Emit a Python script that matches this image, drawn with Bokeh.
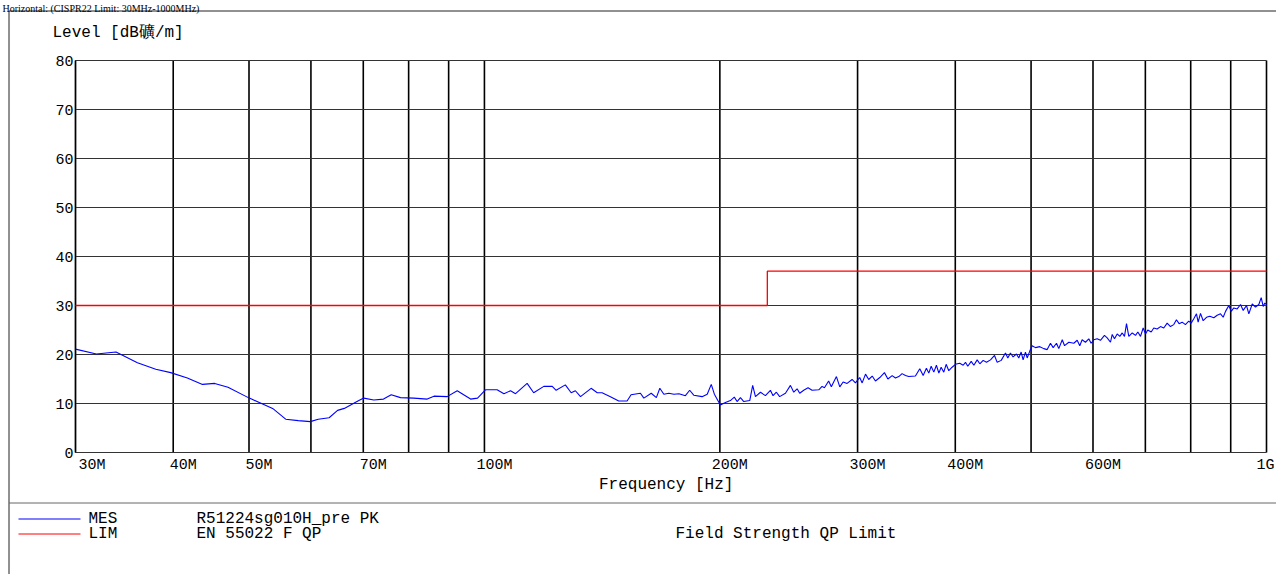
import math
from bokeh.plotting import figure
from bokeh.models import Range1d, LinearScale
from bokeh.embed import file_html
from bokeh.resources import INLINE
from bokeh.core.properties import value

# ---------------- data ----------------
mes_freq_mhz = [
    30.0, 31.9, 33.8, 36.0, 38.0, 39.7, 41.7, 43.6, 45.2, 47.0, 49.9, 53.6, 55.7, 57.8, 59.9,
    61.3, 63.3, 64.9, 66.2, 68.9, 70.1, 72.2, 74.3, 76.0,
    78.1, 81.2, 84.5, 86.2, 89.6, 92.3, 96.0, 98.0, 100.3, 103.8, 105.9, 108.0, 109.6, 113.4,
    115.6, 119.1, 122.1, 123.5, 126.9, 129.1, 130.7, 132.7, 136.9, 139.4, 141.4, 144.9, 148.5,
    152.2, 154.0, 158.3, 159.9, 163.4, 165.9, 167.6, 169.6, 172.1, 174.7, 177.3, 180.7, 183.0,
    185.2, 189.8, 192.7, 195.0, 196.8,
    200.3, 203.3, 206.3, 208.7, 210.4, 212.5, 214.6, 218.4, 220.3, 222.1, 225.4, 228.7, 232.1,
    233.9, 236.2, 238.5, 242.6, 246.2, 248.6, 251.1, 253.0, 256.0, 259.3, 262.4, 267.6, 270.2,
    272.1, 275.5, 277.7, 281.9, 284.7, 287.5, 290.9, 295.2, 298.1, 301.9, 304.1, 307.1, 310.0,
    313.2, 316.2, 320.3, 324.7,
    328.0, 332.2, 335.4, 338.7, 342.0, 345.4, 348.8, 355.7, 360.3, 363.9, 367.4, 370.0, 372.6,
    375.5, 378.4, 381.1, 383.7, 386.7, 389.4, 392.4, 396.3, 400.2, 405.3, 409.4, 412.2, 415.0,
    419.2, 422.5, 426.6, 430.0, 434.2, 438.5, 443.7, 449.0, 452.5, 457.9, 463.7, 466.9, 470.5,
    474.2, 478.9, 482.2, 485.6, 488.4, 491.8, 494.3, 498.1, 501.6, 506.5, 513.0, 519.0, 524.3,
    529.4, 533.6, 538.9, 542.5, 548.1, 551.8, 558.8,
    567.0, 572.7, 577.1, 581.1, 586.8, 592.6, 596.7, 601.4, 607.4, 613.3, 620.6, 625.6, 631.7,
    634.9, 639.2, 644.3, 649.3, 653.9, 658.3, 662.2, 666.7, 673.5, 680.0, 684.7, 690.1, 695.5,
    700.3, 705.0, 712.1, 717.6, 724.7, 731.9, 739.0, 746.4, 753.7, 761.1, 767.1, 773.1, 780.1,
    787.6, 795.4, 801.0, 807.3, 813.7, 817.7, 823.4, 829.9, 838.1, 846.2, 856.4, 864.8, 873.4,
    880.3, 886.4, 895.0, 901.3, 908.3, 917.3, 926.4, 933.7, 942.8, 949.3, 958.8, 968.1, 977.7,
    984.5, 990.3, 995.0, 1000.0,
]
mes_level_db = [
    21.1, 20.1, 20.5, 18.3, 17.0, 16.3, 15.2, 13.9, 14.1, 13.3, 11.2, 9.0, 6.8, 6.5, 6.3,
    6.8, 7.1, 8.6, 9.0, 10.5, 11.1, 10.7, 10.9, 11.8,
    11.2, 11.1, 10.9, 11.5, 11.4, 12.6, 10.9, 11.1, 12.8, 12.8, 12.0, 12.6, 12.0, 14.1,
    12.2, 13.5, 13.5, 12.7, 13.8, 12.2, 12.6, 11.4, 13.1, 12.2, 12.2, 11.4, 10.5,
    10.5, 11.8, 12.1, 11.1, 12.1, 11.2, 13.1, 11.9, 12.1, 11.9, 12.0, 11.6, 12.7,
    11.7, 11.4, 11.9, 13.9, 11.9,
    9.7, 10.2, 10.6, 11.3, 10.4, 11.2, 10.4, 10.6, 13.7, 11.4, 12.3, 11.6, 12.7,
    11.6, 12.3, 11.4, 12.1, 13.7, 12.3, 13.0, 12.1, 12.7, 13.2, 12.7, 12.8, 13.5,
    13.2, 14.6, 13.4, 15.5, 13.4, 14.4, 14.1, 14.9, 14.2, 15.3, 14.2, 16.0, 14.9,
    15.6, 14.6, 15.3, 16.3,
    15.0, 15.7, 15.2, 15.5, 16.1, 15.7, 15.5, 15.6, 17.1, 15.7, 17.2, 16.2, 17.6,
    16.4, 17.8, 16.2, 17.4, 16.4, 18.0, 16.7, 17.4, 18.0, 18.2, 17.8, 18.4, 17.6,
    18.6, 17.8, 18.9, 18.1, 18.8, 18.4, 18.9, 19.8, 18.4, 18.8, 20.3, 19.3, 20.3,
    19.5, 20.1, 19.3, 20.5, 18.9, 20.5, 19.3, 20.7, 21.8, 21.4, 21.6, 21.2, 21.0,
    22.3, 21.4, 22.3, 21.2, 23.0, 21.8, 22.5,
    22.3, 22.9, 21.8, 23.0, 22.5, 23.2, 22.3, 23.0, 23.2, 22.9, 23.9, 23.4, 22.5,
    24.1, 23.2, 24.2, 23.7, 24.4, 23.7, 26.3, 23.7, 24.4, 23.9, 24.6, 23.7, 25.4,
    24.2, 25.0, 24.6, 25.4, 25.2, 25.7, 25.4, 26.4, 25.7, 26.1, 27.1, 26.3, 26.6,
    26.1, 26.8, 26.4, 27.3, 28.3, 26.6, 28.4, 26.9, 27.6, 27.8, 27.5, 28.0, 28.3,
    27.6, 28.8, 30.0, 28.8, 29.5, 29.3, 30.2, 29.0, 30.0, 28.3, 30.3, 29.7, 30.2,
    31.6, 29.8, 30.5, 30.2,
]
lim_freq_mhz = [30, 230, 230, 1000]
lim_level_db = [30, 30, 37, 37]

x_ticks = [30, 40, 50, 60, 70, 80, 90, 100, 200, 300, 400, 500, 600, 700, 800, 900, 1000]
x_tick_labels = ["30M", "40M", "50M", "", "70M", "", "", "100M", "200M", "300M", "400M",
                 "", "600M", "", "", "", "1G"]
y_ticks = [0, 10, 20, 30, 40, 50, 60, 70, 80]
y_tick_labels = ["0", "10", "20", "30", "40", "50", "60", "70", "80"]

title_text = "Horizontal: (CISPR22 Limit: 30MHz-1000MHz)"
y_title = "Level  [dB礦/m]"
x_title = "Frequency  [Hz]"
legend_key = ["MES", "LIM"]
legend_name = ["R51224sg010H_pre  PK", "EN 55022 F QP"]
legend_note = ["", "Field Strength QP Limit"]
legend_color = ["#0000ff", "#ff0000"]

# ---------------- layout (page pixels) ----------------
W, H = 1276, 574
PLOT_L, PLOT_R, PLOT_T, PLOT_B = 75, 1266, 60, 452
MONO = value("Liberation Mono")

f0, f1 = x_ticks[0], x_ticks[-1]
v0, v1 = y_ticks[0], y_ticks[-1]
dec_px = (PLOT_R - PLOT_L) / math.log10(f1 / f0)
x_start = f0 / 10 ** (PLOT_L / dec_px)
x_end = f1 * 10 ** ((W - PLOT_R) / dec_px)
unit_px = (PLOT_B - PLOT_T) / (v1 - v0)
y_start = v0 - (H - PLOT_B) / unit_px
y_end = v1 + PLOT_T / unit_px

p = figure(width=W, height=H, x_axis_type="log", x_axis_location=None, y_axis_location=None,
           x_range=Range1d(x_start, x_end), y_range=Range1d(y_start, y_end),
           output_backend="svg", toolbar_location=None, min_border=0)
p.outline_line_color = None
p.background_fill_color = "white"
p.border_fill_color = "white"
p.grid.grid_line_color = None
p.extra_x_ranges = {"px": Range1d(0, W)}
p.extra_x_scales = {"px": LinearScale()}
p.extra_y_ranges = {"py": Range1d(H, 0)}
p.extra_y_scales = {"py": LinearScale()}

# grid lines (through the data scales)
p.segment(x0=x_ticks, y0=[v0] * len(x_ticks), x1=x_ticks, y1=[v1] * len(x_ticks),
          line_color="black", line_width=1.6)
p.segment(x0=[f0] * len(y_ticks), y0=y_ticks, x1=[f1] * len(y_ticks), y1=y_ticks,
          line_color="#333333", line_width=1)
p.segment(x0=[f0], y0=[v0], x1=[f0], y1=[v1], line_color="black", line_width=1.2)

# series
p.line(mes_freq_mhz, mes_level_db, line_color="#0000ff", line_width=1.1)
p.line(lim_freq_mhz, lim_level_db, line_color="#ff0000", line_width=1.3)

# tick labels
lab_ticks = [t for t, s in zip(x_ticks, x_tick_labels) if s]
lab_texts = [s for s in x_tick_labels if s]
aligns = ["left"] + ["center"] * (len(lab_texts) - 2) + ["right"]
xoffs = [3] + [10] * (len(lab_texts) - 2) + [8]
p.text(x=lab_ticks, y=[465] * len(lab_ticks), text=lab_texts, y_range_name="py",
       text_align=aligns, x_offset=xoffs, text_baseline="middle",
       text_font=MONO, text_font_size="15px", text_color="black")
p.text(x=[73] * len(y_ticks), y=y_ticks, text=y_tick_labels, x_range_name="px",
       text_align="right", text_baseline="middle",
       text_font=MONO, text_font_size="15px", text_color="black")

# decorations in page-pixel space
px = dict(x_range_name="px", y_range_name="py")
p.segment(x0=[8.5, 8.5, 8.5], y0=[10.5, 10.5, 502.5], x1=[8.5, W, W], y1=[H, 10.5, 502.5],
          line_color=["#222222", "#222222", "#666666"], line_width=1, **px)
p.text(x=[2], y=[7.5], text=[title_text], text_font=value("Liberation Serif"),
       text_font_size="10px", text_baseline="alphabetic", text_color="black", **px)
p.text(x=[52], y=[32], text=[y_title], text_font=MONO, text_font_size="16px",
       text_baseline="middle", text_color="black", **px)
p.text(x=[(PLOT_L + PLOT_R) / 2], y=[484], text=[x_title], text_font=MONO,
       text_font_size="16px", text_align="center", text_baseline="middle",
       text_color="black", **px)

row_y = [518.5, 533.5]
p.segment(x0=[18, 18], y0=row_y, x1=[80, 80], y1=row_y, line_color=legend_color,
          line_width=1, **px)
p.text(x=[88, 88], y=row_y, text=legend_key, text_font=MONO, text_font_size="16px",
       text_baseline="middle", text_color="black", **px)
p.text(x=[196, 196], y=row_y, text=legend_name, text_font=MONO, text_font_size="16px",
       text_baseline="middle", text_color="black", **px)
p.text(x=[675], y=[row_y[1]], text=[legend_note[1]], text_font=MONO, text_font_size="16px",
       text_baseline="middle", text_color="black", **px)

open("out.html", "w").write(file_html(p, INLINE))
